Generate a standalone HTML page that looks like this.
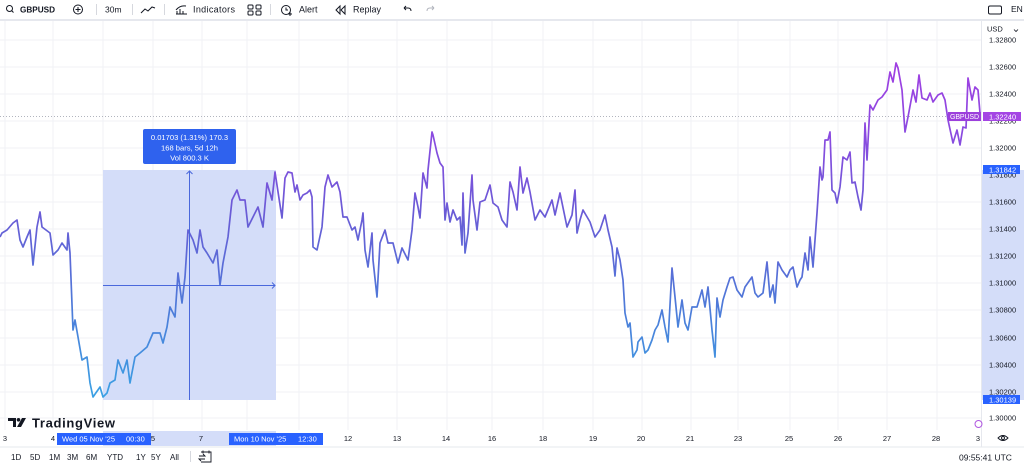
<!DOCTYPE html>
<html><head><meta charset="utf-8">
<style>
html,body{margin:0;padding:0;background:#fff;}
svg{display:block;font-family:"Liberation Sans",sans-serif;}
</style></head>
<body>
<svg width="1024" height="467" viewBox="0 0 1024 467" xmlns="http://www.w3.org/2000/svg">
<defs>
<linearGradient id="lg" gradientUnits="userSpaceOnUse" x1="0" y1="60" x2="0" y2="400">
<stop offset="0" stop-color="#a13ee2"/>
<stop offset="0.22" stop-color="#8a4ae0"/>
<stop offset="0.45" stop-color="#6a5bd6"/>
<stop offset="0.7" stop-color="#5077d8"/>
<stop offset="1" stop-color="#3aa2e4"/>
</linearGradient>
</defs>
<rect width="1024" height="467" fill="#fff"/>

<!-- toolbar -->
<rect x="0" y="19" width="1024" height="2" fill="#e6e8ee"/>
<g fill="none" stroke="#131722" stroke-width="1">
<circle cx="9.5" cy="8.5" r="3"/><line x1="11.6" y1="10.6" x2="13.5" y2="12.5"/>
<circle cx="78" cy="9.5" r="4.5"/><line x1="78" y1="7" x2="78" y2="12"/><line x1="75.5" y1="9.5" x2="80.5" y2="9.5"/>
<polyline points="141,13 145,9 148,11 152,7 155,8"/>
<path d="M176,14 h11 M177,14 v-3 M180,14 v-5 M183,14 v-3 M176,10 q4,-5 10,-4"/>
<rect x="248" y="5" width="5" height="4" rx="1"/><rect x="256" y="5" width="5" height="4" rx="1"/><rect x="248" y="11" width="5" height="4" rx="1"/><rect x="256" y="11" width="5" height="4" rx="1"/>
<circle cx="286" cy="10" r="4.5"/><path d="M286,7.5 v2.5 h2 M290,12 v4 M288,14 h4"/>
<path d="M340,6 l-4,4 l4,4 z M345,6 l-4,4 l4,4 z"/>
<path d="M404,8 h4 q3,0 3,3 M404,8 l2,-2 M404,8 l2,2"/>
</g>
<path d="M434,8 h-4 q-3,0 -3,3 M434,8 l-2,-2 M434,8 l-2,2" fill="none" stroke="#b2b5be" stroke-width="1"/>
<g fill="#d6d8de"><rect x="96" y="4" width="1" height="11"/><rect x="132" y="4" width="1" height="11"/><rect x="164" y="4" width="1" height="11"/><rect x="270" y="4" width="1" height="11"/></g>
<g fill="#131722" font-size="9">
<text x="20" y="12.5" font-weight="bold" font-size="8.2">GBPUSD</text>
<text x="105" y="12.5" font-size="8.5">30m</text>
<text x="193" y="12.5" textLength="42">Indicators</text>
<text x="299" y="12.5">Alert</text>
<text x="353" y="12.5">Replay</text>
<text x="1011" y="12" font-size="8.5">EN</text>
</g>
<rect x="988.5" y="6" width="13" height="8" rx="1.5" fill="none" stroke="#131722" stroke-width="1"/>

<!-- grid -->
<g stroke="#f0f2f6" stroke-width="1">
<line x1="5" y1="21" x2="5" y2="430"/><line x1="53" y1="21" x2="53" y2="430"/><line x1="103" y1="21" x2="103" y2="430"/><line x1="153" y1="21" x2="153" y2="430"/><line x1="202" y1="21" x2="202" y2="430"/><line x1="247" y1="21" x2="247" y2="430"/><line x1="299" y1="21" x2="299" y2="430"/><line x1="348" y1="21" x2="348" y2="430"/><line x1="397" y1="21" x2="397" y2="430"/><line x1="447" y1="21" x2="447" y2="430"/><line x1="492" y1="21" x2="492" y2="430"/><line x1="543" y1="21" x2="543" y2="430"/><line x1="593" y1="21" x2="593" y2="430"/><line x1="642" y1="21" x2="642" y2="430"/><line x1="691" y1="21" x2="691" y2="430"/><line x1="738" y1="21" x2="738" y2="430"/><line x1="790" y1="21" x2="790" y2="430"/><line x1="838" y1="21" x2="838" y2="430"/><line x1="887" y1="21" x2="887" y2="430"/><line x1="937" y1="21" x2="937" y2="430"/>
<line x1="0" y1="40" x2="982" y2="40"/><line x1="0" y1="67" x2="982" y2="67"/><line x1="0" y1="94" x2="982" y2="94"/><line x1="0" y1="121" x2="982" y2="121"/><line x1="0" y1="148" x2="982" y2="148"/><line x1="0" y1="175" x2="982" y2="175"/><line x1="0" y1="202" x2="982" y2="202"/><line x1="0" y1="229" x2="982" y2="229"/><line x1="0" y1="256" x2="982" y2="256"/><line x1="0" y1="283" x2="982" y2="283"/><line x1="0" y1="310" x2="982" y2="310"/><line x1="0" y1="338" x2="982" y2="338"/><line x1="0" y1="365" x2="982" y2="365"/><line x1="0" y1="392" x2="982" y2="392"/><line x1="0" y1="418" x2="982" y2="418"/>
</g>

<!-- measurement rect -->
<rect x="103" y="170" width="173" height="230" fill="#d4ddf9"/>
<rect x="982" y="170" width="42" height="230" fill="#d4ddf9"/>
<rect x="103" y="431" width="173" height="15" fill="#d4ddf9"/>

<!-- current price dotted -->
<line x1="0" y1="116.5" x2="948" y2="116.5" stroke="#b2b5be" stroke-width="1" stroke-dasharray="1,2"/>

<!-- series -->
<polyline fill="none" stroke="url(#lg)" stroke-width="1.7" stroke-linejoin="round" points="0,237 2,233 7,230 13,223 17,220 20,240 23,247 27,237 30,230 33,265 37,227 40,212 42,227 50,233 53,255 58,250 62,243 67,250 68,233 70,253 73,330 75,320 78,337 82,360 87,357 90,383 93,397 100,387 103,397 107,393 110,383 115,380 118,360 123,373 127,360 130,383 135,357 140,353 147,347 153,333 160,333 163,343 167,327 170,307 175,317 178,273 182,303 185,277 188,230 193,240 197,253 200,230 203,247 207,253 213,263 217,250 220,285 223,263 228,237 232,200 237,190 240,200 245,200 248,227 253,217 258,207 263,227 267,183 272,200 275,172 282,218 285,178 288,172 292,173 295,192 297,185 300,200 303,195 307,193 310,190 312,197 313,247 317,250 322,227 325,187 328,175 332,187 337,182 340,192 343,217 347,217 352,230 355,227 358,240 362,220 363,213 365,250 368,267 372,233 373,260 377,297 380,243 385,230 388,243 393,243 398,263 402,248 408,260 412,230 415,193 418,207 420,218 423,173 427,188 428,170 432,132 433,135 437,153 440,163 443,167 445,220 447,203 450,222 453,210 457,220 460,217 462,245 463,193 465,253 468,233 472,175 473,200 477,230 480,202 485,200 490,185 493,203 498,207 502,220 507,227 510,182 513,192 517,210 520,167 523,193 527,178 530,192 535,220 540,210 545,217 552,200 555,215 560,193 567,227 572,215 575,190 577,233 580,220 583,210 590,222 595,237 600,230 605,215 608,230 612,247 615,276 617,248 620,260 623,280 625,313 628,327 630,323 633,357 637,350 638,342 642,337 645,353 648,350 652,340 655,330 658,325 662,310 665,327 668,342 672,268 675,297 678,327 682,300 685,323 688,330 692,307 697,307 702,290 705,307 708,287 712,330 715,357 717,298 720,317 723,300 727,287 730,278 733,277 737,290 742,297 745,287 752,277 755,293 758,297 763,293 767,262 770,297 773,285 775,303 778,262 782,270 787,277 790,270 793,267 797,287 800,280 802,277 805,253 808,270 810,237 813,267 817,213 820,167 822,180 823,177 825,140 828,140 830,132 832,190 835,193 837,203 840,187 843,157 847,160 850,152 852,183 855,182 858,197 861,210 863,190 865,123 867,160 870,105 873,110 878,100 882,97 887,90 890,72 893,82 896,63 898,68 902,90 905,132 908,117 913,90 916,102 919,75 922,98 927,100 930,93 933,102 938,95 942,93 945,100 948,120 953,143 957,130 960,145 963,127 966,128 968,78 972,100 975,87 978,90 980,113"/>

<!-- measurement lines -->
<g stroke="#4a68dc" stroke-width="1" fill="none">
<line x1="189.5" y1="171" x2="189.5" y2="400"/>
<polyline points="186.5,174 189.5,171 192.5,174"/>
<line x1="103" y1="285.5" x2="275" y2="285.5"/>
<polyline points="272,282.5 275,285.5 272,288.5"/>
</g>
<rect x="143" y="129" width="93" height="35" rx="2" fill="#2f62ee"/>
<g fill="#fff" font-size="7.6" text-anchor="middle">
<text x="189.5" y="140.2">0.01703 (1.31%) 170.3</text>
<text x="189.5" y="150.7">168 bars, 5d 12h</text>
<text x="189.5" y="160.7">Vol 800.3 K</text>
</g>

<!-- price axis -->
<line x1="981.5" y1="21" x2="981.5" y2="447" stroke="#e6e8ee" stroke-width="1"/>
<g fill="#131722" font-size="7.5">
<text x="987" y="31.5">USD</text>
<text x="989" y="42.7">1.32800</text>
<text x="989" y="69.7">1.32600</text>
<text x="989" y="96.7">1.32400</text>
<text x="989" y="123.7">1.32200</text>
<text x="989" y="150.7">1.32000</text>
<text x="989" y="177.7">1.31800</text>
<text x="989" y="204.7">1.31600</text>
<text x="989" y="231.7">1.31400</text>
<text x="989" y="258.7">1.31200</text>
<text x="989" y="285.7">1.31000</text>
<text x="989" y="312.7">1.30800</text>
<text x="989" y="340.7">1.30600</text>
<text x="989" y="367.7">1.30400</text>
<text x="989" y="394.7">1.30200</text>
<text x="989" y="420.7">1.30000</text>
</g>
<path d="M1014,29.5 l2,2 l2,-2" fill="none" stroke="#131722" stroke-width="0.8"/>
<rect x="948" y="112" width="33" height="9" fill="#9c3fdc"/>
<rect x="983" y="112" width="38" height="9" fill="#a445e4"/>
<g fill="#fff" font-size="7.5">
<text x="950" y="119.2" textLength="29" font-size="7">GBPUSD</text>
<text x="989" y="119.5">1.32240</text>
</g>
<rect x="983" y="165" width="37" height="9" fill="#2962ff"/>
<text x="989" y="172.5" fill="#fff" font-size="7.5">1.31842</text>
<rect x="983" y="395" width="37" height="9" fill="#2962ff"/>
<text x="989" y="402.5" fill="#fff" font-size="7.5">1.30139</text>

<!-- logo -->
<path d="M8,418 h8 v9 h-3 v-6 h-5 z" fill="#131722"/>
<circle cx="18.5" cy="419.8" r="1.8" fill="#131722"/>
<path d="M22,418 h4 l-5,9 h-4 z" fill="#131722"/>
<text x="32" y="427.5" font-size="13" font-weight="bold" fill="#131722" textLength="83">TradingView</text>
<circle cx="978.5" cy="424" r="3.5" fill="none" stroke="#b057e0" stroke-width="1"/>

<!-- time axis -->
<g fill="#131722" font-size="7.5" text-anchor="middle">
<text x="5" y="441">3</text><text x="53" y="441">4</text><text x="153" y="441">5</text><text x="201" y="441">7</text>
<text x="348" y="441">12</text><text x="397" y="441">13</text><text x="446" y="441">14</text><text x="492" y="441">16</text>
<text x="543" y="441">18</text><text x="593" y="441">19</text><text x="641" y="441">20</text><text x="690" y="441">21</text>
<text x="738" y="441">23</text><text x="789" y="441">25</text><text x="838" y="441">26</text><text x="887" y="441">27</text>
<text x="936" y="441">28</text><text x="978" y="441">3</text>
</g>
<rect x="57" y="433" width="94" height="12" fill="#2962ff"/>
<rect x="229" y="433" width="94" height="12" fill="#2962ff"/>
<g fill="#fff" font-size="7.5">
<text x="62" y="441.5">Wed 05 Nov '25</text><text x="126" y="441.5">00:30</text>
<text x="234" y="441.5">Mon 10 Nov '25</text><text x="298" y="441.5">12:30</text>
</g>
<g fill="none" stroke="#131722" stroke-width="0.9">
<path d="M998,438 q5,-5 10,0 q-5,5 -10,0 z"/><circle cx="1003" cy="438" r="1.5"/>
</g>

<!-- bottom bar -->
<rect x="0" y="446.5" width="1024" height="1" fill="#e6e8ee"/>
<g fill="#131722" font-size="8">
<text x="11" y="460">1D</text><text x="30" y="460">5D</text><text x="49" y="460">1M</text><text x="67" y="460">3M</text><text x="86" y="460">6M</text><text x="107" y="460">YTD</text><text x="136" y="460">1Y</text><text x="151" y="460">5Y</text><text x="170" y="460">All</text>
<text x="959" y="460.5" font-size="8.5">09:55:41 UTC</text>
</g>
<rect x="190" y="451" width="1" height="11" fill="#d6d8de"/>
<g fill="none" stroke="#131722" stroke-width="0.9">
<path d="M201,452 h10 v10 h-10 M203,450.5 v3 M209,450.5 v3 M199,456 h6 l-2,-2 M205,459 h-6 l2,2"/>
</g>
</svg>
</body></html>
